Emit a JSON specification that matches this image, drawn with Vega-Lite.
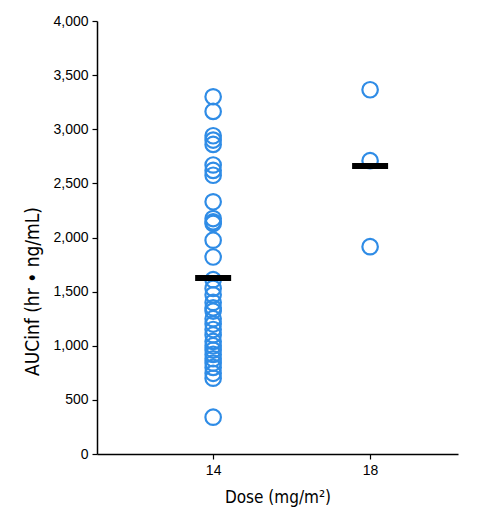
{
  "$schema": "https://vega.github.io/schema/vega-lite/v6.json",
  "width": 361,
  "height": 433,
  "autosize": {"type": "none"},
  "padding": {"left": 97, "top": 21, "right": 42, "bottom": 68},
  "background": "white",
  "config": {
    "view": {"stroke": null},
    "axis": {
      "domainColor": "black",
      "domainWidth": 1.5,
      "tickColor": "black",
      "tickWidth": 1.2,
      "tickSize": 5,
      "grid": false,
      "labelFont": "Arial",
      "labelFontSize": 14,
      "labelColor": "black",
      "titleFont": "DejaVu Sans Condensed",
      "titleFontSize": 17,
      "titleFontWeight": "normal",
      "titleColor": "black"
    }
  },
  "datasets": {
    "points": [
      {"dose": 14, "auc": 3300}, {"dose": 14, "auc": 3165},
      {"dose": 14, "auc": 2940}, {"dose": 14, "auc": 2900}, {"dose": 14, "auc": 2860},
      {"dose": 14, "auc": 2670}, {"dose": 14, "auc": 2620}, {"dose": 14, "auc": 2575},
      {"dose": 14, "auc": 2330},
      {"dose": 14, "auc": 2175}, {"dose": 14, "auc": 2145}, {"dose": 14, "auc": 2130},
      {"dose": 14, "auc": 1975}, {"dose": 14, "auc": 1820},
      {"dose": 14, "auc": 1610}, {"dose": 14, "auc": 1530}, {"dose": 14, "auc": 1470},
      {"dose": 14, "auc": 1400}, {"dose": 14, "auc": 1350}, {"dose": 14, "auc": 1320},
      {"dose": 14, "auc": 1250}, {"dose": 14, "auc": 1200}, {"dose": 14, "auc": 1150},
      {"dose": 14, "auc": 1100}, {"dose": 14, "auc": 1040}, {"dose": 14, "auc": 1000},
      {"dose": 14, "auc": 960}, {"dose": 14, "auc": 920}, {"dose": 14, "auc": 880},
      {"dose": 14, "auc": 840}, {"dose": 14, "auc": 800}, {"dose": 14, "auc": 745},
      {"dose": 14, "auc": 700}, {"dose": 14, "auc": 340},
      {"dose": 18, "auc": 3365}, {"dose": 18, "auc": 2710}, {"dose": 18, "auc": 1915}
    ],
    "means": [
      {"dose": 14, "auc": 1626},
      {"dose": 18, "auc": 2660}
    ]
  },
  "layer": [
    {
      "data": {"name": "points"},
      "mark": {"type": "point", "shape": "circle", "filled": false, "size": 240, "strokeWidth": 2.2, "color": "#2f8ce6", "opacity": 1},
      "encoding": {
        "x": {
          "field": "dose", "type": "quantitative",
          "scale": {"domain": [11.04, 20.24], "nice": false, "zero": false},
          "axis": {"values": [14, 18], "format": "d", "title": "Dose (mg/m²)", "titlePadding": 12, "labelPadding": 4}
        },
        "y": {
          "field": "auc", "type": "quantitative",
          "scale": {"domain": [0, 4000], "nice": false},
          "axis": {"values": [0, 500, 1000, 1500, 2000, 2500, 3000, 3500, 4000], "format": ",.0f", "title": "AUCinf  (hr • ng/mL)", "titleFontSize": 19, "titleY": 270, "titlePadding": 10, "labelPadding": 4}
        }
      }
    },
    {
      "data": {"name": "means"},
      "mark": {"type": "tick", "orient": "horizontal", "color": "black", "size": 36, "thickness": 6, "opacity": 1},
      "encoding": {
        "x": {"field": "dose", "type": "quantitative"},
        "y": {"field": "auc", "type": "quantitative"}
      }
    }
  ]
}
